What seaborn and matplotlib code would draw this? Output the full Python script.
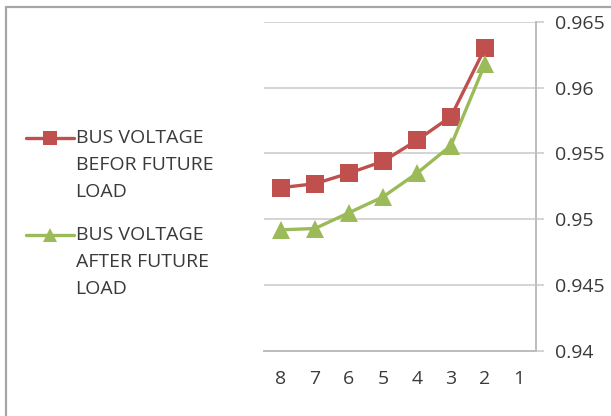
import matplotlib
matplotlib.use("Agg")
import matplotlib.pyplot as plt
from matplotlib.legend_handler import HandlerLine2D
from matplotlib.lines import Line2D
from matplotlib.ticker import FixedLocator, FixedFormatter
import pandas as pd
import seaborn as sns

# Bus numbers (shown right-to-left descending on the axis)
bus_ticks = [8, 7, 6, 5, 4, 3, 2, 1]
buses = [8, 7, 6, 5, 4, 3, 2]

# Bus voltages (p.u.)
before_load = [0.9524, 0.9527, 0.9535, 0.9544, 0.9560, 0.9578, 0.9630]
after_load = [0.9492, 0.9493, 0.9505, 0.9517, 0.9535, 0.9556, 0.9618]

y_ticks = [0.94, 0.945, 0.95, 0.955, 0.96, 0.965]
y_labels = ["0.94", "0.945", "0.95", "0.955", "0.96", "0.965"]

label_before = "BUS VOLTAGE\nBEFOR FUTURE\nLOAD"
label_after = "BUS VOLTAGE\nAFTER FUTURE\nLOAD"

df = pd.DataFrame({
    "bus": buses + buses,
    "voltage": before_load + after_load,
    "series": [label_before] * len(buses) + [label_after] * len(buses),
})

RED = "#C0504D"
GREEN = "#9BBB59"
TEXT = "#3A3A3A"
GRID = "#D4D4D4"
AXIS = "#BDBDBD"
FS = 14

sns.set_theme(style="white")
plt.rcParams["font.family"] = ["Open Sans", "DejaVu Sans"]

fig = plt.figure(figsize=(6.11, 4.16), dpi=100)
ax = fig.add_axes([264 / 611, 1 - 351 / 416, 272 / 611, 329.3 / 416])

sns.lineplot(
    data=df, x="bus", y="voltage", hue="series", style="series",
    palette={label_before: RED, label_after: GREEN},
    markers={label_before: "s", label_after: "^"},
    dashes=False, linewidth=2.4, markersize=13, markeredgewidth=0,
    ax=ax,
)

ax.set_xlim(8.5, 0.5)
ax.set_ylim(0.94, 0.965)
ax.set_xlabel("")
ax.set_ylabel("")

# x axis: category labels with tick marks between categories
ax.xaxis.set_major_locator(FixedLocator(bus_ticks))
ax.xaxis.set_major_formatter(FixedFormatter([str(b) for b in bus_ticks]))
ax.xaxis.set_minor_locator(FixedLocator([b + 0.5 for b in range(0, 9)]))
ax.tick_params(axis="x", which="major", length=0, pad=14, labelsize=FS, labelcolor=TEXT)
ax.tick_params(axis="x", which="minor", length=5.5, width=1.4, color=AXIS, direction="out")

# y axis on the right
ax.yaxis.tick_right()
ax.yaxis.set_major_locator(FixedLocator(y_ticks))
ax.yaxis.set_major_formatter(FixedFormatter(y_labels))
ax.tick_params(axis="y", which="major", length=5.5, width=1.4, color=GRID, pad=8,
               labelsize=FS, labelcolor=TEXT, direction="out")
ax.grid(axis="y", color=GRID, linewidth=1.4)
ax.grid(axis="x", visible=False)

for side in ("top", "left"):
    ax.spines[side].set_visible(False)
for side in ("bottom", "right"):
    ax.spines[side].set_color(AXIS)
    ax.spines[side].set_linewidth(1.4)


class FirstLineHandler(HandlerLine2D):
    """Puts the legend marker level with the first line of a multi-line label."""

    def __init__(self, shift, **kw):
        super().__init__(**kw)
        self.shift = shift

    def create_artists(self, legend, orig_handle, xdescent, ydescent, width,
                       height, fontsize, trans):
        return super().create_artists(legend, orig_handle, xdescent,
                                      ydescent - 2 * self.shift, width, height,
                                      fontsize, trans)


handles = [
    Line2D([], [], color=RED, lw=2.4, marker="s", markersize=9.5, markeredgewidth=0),
    Line2D([], [], color=GREEN, lw=2.4, marker="^", markersize=9.5, markeredgewidth=0),
]
line_shift = 27.5 * 72 / 100
leg = ax.legend(
    handles, [label_before, label_after],
    loc="upper left", bbox_to_anchor=(26 / 611, 1 - 129 / 416),
    bbox_transform=fig.transFigure, frameon=False,
    fontsize=FS, handlelength=2.45, handletextpad=0.1, labelspacing=1.25,
    borderaxespad=0, borderpad=0,
    handler_map={h: FirstLineHandler(line_shift) for h in handles},
)
for t in leg.get_texts():
    t.set_color(TEXT)
    t.set_linespacing(1.66)

# outer chart border (top and left edges visible)
fig.add_artist(Line2D([5.5 / 611, 5.5 / 611], [0, 1 - 7 / 416],
                      transform=fig.transFigure, color="#A6A6A6", lw=1.6))
fig.add_artist(Line2D([5.5 / 611, 1], [1 - 7 / 416, 1 - 7 / 416],
                      transform=fig.transFigure, color="#A6A6A6", lw=1.6))

fig.savefig("out.png", dpi=100)
